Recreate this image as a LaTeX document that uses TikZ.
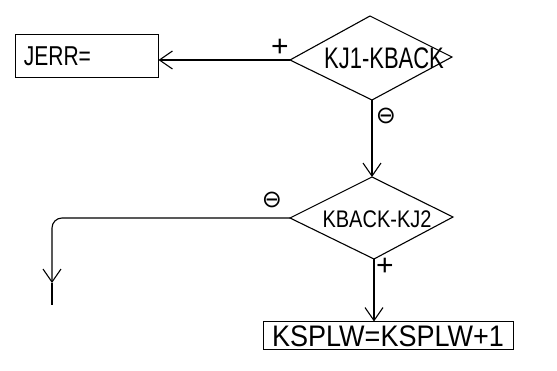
\documentclass[tikz,border=0pt]{standalone}
\usepackage{fontspec}
\setmainfont{Liberation Sans}
\newfontfamily\symfont{DejaVu Sans}
\usetikzlibrary{arrows.meta,shapes.geometric}
\begin{document}
\begin{tikzpicture}[x=1pt,y=-1pt,line width=1.1pt,
  chev/.style={-{Straight Barb[length=13pt,width=18pt,line width=1.1pt]}},
  lbl/.style={font=\fontsize{21}{21}\selectfont},
  sgn/.style={font=\symfont\fontsize{24}{24}\selectfont, inner sep=0pt},
  pls/.style={font=\fontsize{30}{30}\selectfont, inner sep=0pt}]
\useasboundingbox (0,0) rectangle (557,371);
% boxes
\node[draw, minimum width=143pt, minimum height=43pt, inner sep=0pt, line width=1pt] (jerr) at (86.5,56.5) {};
\node[lbl, anchor=west, yscale=1.3] (jerrt) at (20,56) {JERR=};
\node[draw, minimum width=250pt, minimum height=28pt, inner sep=0pt, line width=1pt] (ksplw) at (388,336) {};
\node[font=\fontsize{27}{27}\selectfont, yscale=1.1] (ksplwt) at (388,336) {KSPLW=KSPLW+1};
% diamonds
\coordinate (d1l) at (290,60); \coordinate (d1t) at (370,16);
\coordinate (d1r) at (452,57); \coordinate (d1b) at (372,100);
\draw (d1l) -- (d1t) -- (d1r) -- (d1b) -- cycle;
\node[font=\fontsize{22}{22}\selectfont, yscale=1.35] (d1) at (384,58) {KJ1-KBACK};
\coordinate (d2l) at (290,218); \coordinate (d2t) at (372,177);
\coordinate (d2r) at (453,217); \coordinate (d2b) at (374,259);
\draw (d2l) -- (d2t) -- (d2r) -- (d2b) -- cycle;
\node[font=\fontsize{20}{20}\selectfont, yscale=1.2] (d2) at (377,219) {KBACK-KJ2};
% connectors
\draw[chev] (d1l) -- (jerr.east |- d1l);
\draw[chev] (d1b) -- (d1b |- d2t);
\coordinate (bend) at (52,218);
\coordinate (arr) at (52,283);
\coordinate (endl) at (52,305);
\draw[chev, rounded corners=10pt] (d2l) -- (bend) -- (arr);
\draw (arr) -- (endl);
\draw[chev] (d2b) -- (d2b |- ksplw.north);
% signs
\node[pls] (p1) at (280,48) {+};
\node[sgn] (m1) at (386,116) {⊖};
\node[sgn] (m2) at (272,200) {⊖};
\node[pls] (p2) at (385,267) {+};
\end{tikzpicture}
\end{document}
